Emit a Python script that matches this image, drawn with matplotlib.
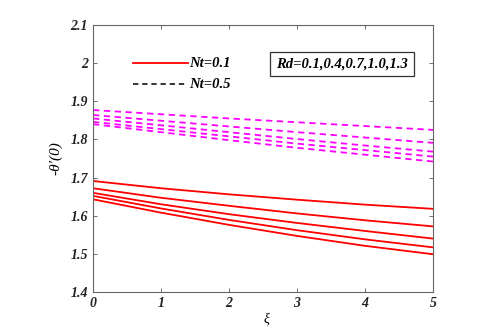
import matplotlib
matplotlib.use("Agg")
import matplotlib.pyplot as plt
import numpy as np

xi = [0, 1, 2, 3, 4, 5]
# Nt = 0.1 (solid red), Rd = 0.1, 0.4, 0.7, 1.0, 1.3
nt01 = [
    [1.691, 1.672, 1.656, 1.642, 1.629, 1.618],
    [1.672, 1.647, 1.626, 1.606, 1.588, 1.572],
    [1.660, 1.630, 1.604, 1.581, 1.560, 1.540],
    [1.652, 1.619, 1.589, 1.562, 1.538, 1.517],
    [1.643, 1.608, 1.576, 1.547, 1.521, 1.499],
]
# Nt = 0.5 (dashed magenta)
nt05 = [
    [1.877, 1.866, 1.855, 1.845, 1.835, 1.825],
    [1.864, 1.849, 1.834, 1.819, 1.805, 1.791],
    [1.855, 1.837, 1.819, 1.801, 1.784, 1.768],
    [1.846, 1.827, 1.808, 1.789, 1.772, 1.755],
    [1.840, 1.819, 1.798, 1.778, 1.760, 1.742],
]
xticks = [0, 1, 2, 3, 4, 5]
yticks = [1.4, 1.5, 1.6, 1.7, 1.8, 1.9, 2.0, 2.1]
ytick_labels = ["1.4", "1.5", "1.6", "1.7", "1.8", "1.9", "2", "2.1"]

serif = ["Liberation Serif", "DejaVu Serif"]

fig = plt.figure(figsize=(4.96, 3.36), dpi=100)
ax = fig.add_axes([0.1875, 0.131, 0.6855, 0.7946])

for ys in nt01:
    ax.plot(xi, ys, color="red", lw=1.3, ls="-")
for ys in nt05:
    ax.plot(xi, ys, color="magenta", lw=1.3, ls=(0, (3.5, 2.5)))

ax.set_xlim(0, 5)
ax.set_ylim(1.4, 2.1)
ax.set_xticks(xticks)
ax.set_yticks(yticks)
ax.set_xticklabels([str(t) for t in xticks], family=serif, style="italic", weight="bold", fontsize=10)
ax.set_yticklabels(ytick_labels, family=serif, style="italic", weight="bold", fontsize=10)
ax.tick_params(direction="in", top=True, right=True, length=3, width=0.6, colors="#555555", labelcolor="#222222")
for s in ax.spines.values():
    s.set_color("#666666")
    s.set_linewidth(0.8)

ax.set_xlabel("ξ", family=serif, style="italic", fontsize=10, labelpad=-1)
ax.xaxis.set_label_coords(0.51, -0.075)
ax.set_ylabel("-θ′(0)", family=serif, style="italic", fontsize=11, labelpad=6)

# Legend drawn as lines in data coordinates
ax.plot([0.59, 1.39], [2.0, 2.0], color="red", lw=1.3, ls="-")
ax.text(1.42, 2.0, "Nt=0.1", family=serif, style="italic", weight="bold", fontsize=10.5, va="center")
ax.plot([0.59, 1.39], [1.945, 1.945], color="black", lw=1.1, ls=(0, (3.5, 2.5)))
ax.text(1.42, 1.945, "Nt=0.5", family=serif, style="italic", weight="bold", fontsize=10.5, va="center")

ax.text(3.66, 1.998, "Rd=0.1,0.4,0.7,1.0,1.3", family=serif, style="italic", weight="bold",
        fontsize=10.5, ha="center", va="center",
        bbox=dict(boxstyle="square,pad=0.4", fc="white", ec="#333333", lw=0.9))

fig.savefig("out.png", dpi=100)
